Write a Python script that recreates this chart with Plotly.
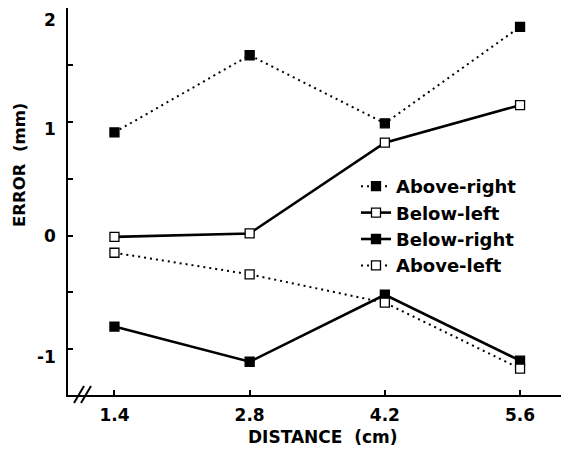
import plotly.graph_objects as go

distance = [1.4, 2.8, 4.2, 5.6]
above_right = [0.91, 1.59, 0.99, 1.84]
below_left = [-0.01, 0.02, 0.82, 1.15]
below_right = [-0.80, -1.11, -0.52, -1.10]
above_left = [-0.15, -0.34, -0.59, -1.17]

series_names = ["Above-right", "Below-left", "Below-right", "Above-left"]
x_tick_labels = ["1.4", "2.8", "4.2", "5.6"]
y_label_vals = [2, 1, 0, -1]
y_label_text = ["2", "1", "0", "-1"]

FONT = "DejaVu Sans"
OFF = 8  # page offset of the figure div
W, H = 561, 446
L, R, T, B = 60, 5, 0, 59
PW, PH = W - L - R, H - T - B

styles = [
    dict(dash="2px,4px", width=2, fill="black"),
    dict(dash="solid", width=2.6, fill="white"),
    dict(dash="solid", width=2.6, fill="black"),
    dict(dash="2px,4px", width=2, fill="white"),
]
values = [above_right, below_left, below_right, above_left]

fig = go.Figure()
for name, ys, st in zip(series_names, values, styles):
    fig.add_trace(go.Scatter(
        x=distance, y=ys, name=name, mode="lines+markers",
        line=dict(color="black", width=st["width"], dash=st["dash"]),
        marker=dict(symbol="square", size=9, color=st["fill"],
                    line=dict(color="black", width=1.3)),
    ))

fig.update_xaxes(
    range=[0.919, 6.055], tickvals=distance, ticktext=x_tick_labels,
    ticks="inside", ticklen=5, tickwidth=1.5, tickcolor="black",
    showline=True, linecolor="black", linewidth=2.4, mirror=True,
    showgrid=False, zeroline=False, ticklabelstandoff=3, automargin=False,
    tickfont=dict(family=FONT, size=17, color="black", weight="bold"),
)
fig.update_yaxes(
    range=[-1.403, 2.006], tickvals=[-1, -0.5, 0, 0.5, 1, 1.5, 2],
    ticks="inside", ticklen=5, tickwidth=1.5, tickcolor="black",
    showticklabels=False, automargin=False,
    showline=True, linecolor="black", linewidth=2.4, mirror=True,
    showgrid=False, zeroline=False,
)


def px(xp, yp):
    """page pixel -> paper coords"""
    return (xp - OFF - L) / PW, (H - B - (yp - OFF)) / PH


annotations = []
yshifts = [-11, -7, 0, -8]
for v, t, s in zip(y_label_vals, y_label_text, yshifts):
    annotations.append(dict(
        x=0, xref="paper", y=v, yref="y", text=t, showarrow=False,
        xanchor="right", yanchor="middle", xshift=-10, yshift=s,
        font=dict(family=FONT, size=17, color="black", weight="bold"),
    ))
ax, ay = px(19, 165)
annotations.append(dict(
    x=ax, xref="paper", y=ay, yref="paper",
    text="ERROR  (mm)", textangle=-90, showarrow=False,
    xanchor="center", yanchor="middle",
    font=dict(family=FONT, size=16.5, color="black", weight="bold"),
))
bx, by = px(323, 437)
annotations.append(dict(
    x=bx, xref="paper", y=by, yref="paper",
    text="DISTANCE  (cm)", showarrow=False,
    xanchor="center", yanchor="middle",
    font=dict(family=FONT, size=17, color="black", weight="bold"),
))

shapes = []
for x0 in (74, 81):
    a = px(x0, 403)
    b = px(x0 + 10, 386)
    shapes.append(dict(type="line", xref="paper", yref="paper",
                       x0=a[0], y0=a[1], x1=b[0], y1=b[1],
                       line=dict(color="black", width=2)))

lx, ly = px(356, 168)
fig.update_layout(
    width=W, height=H,
    margin=dict(l=L, r=R, t=T, b=B, autoexpand=False),
    paper_bgcolor="white", plot_bgcolor="white",
    showlegend=True,
    legend=dict(x=lx, y=ly, xanchor="left", yanchor="top",
                bgcolor="rgba(0,0,0,0)", itemwidth=30,
                tracegroupgap=0,
                font=dict(family=FONT, size=18, color="black", weight="bold")),
    annotations=annotations,
    shapes=shapes,
)

fig.write_html("out.html")
